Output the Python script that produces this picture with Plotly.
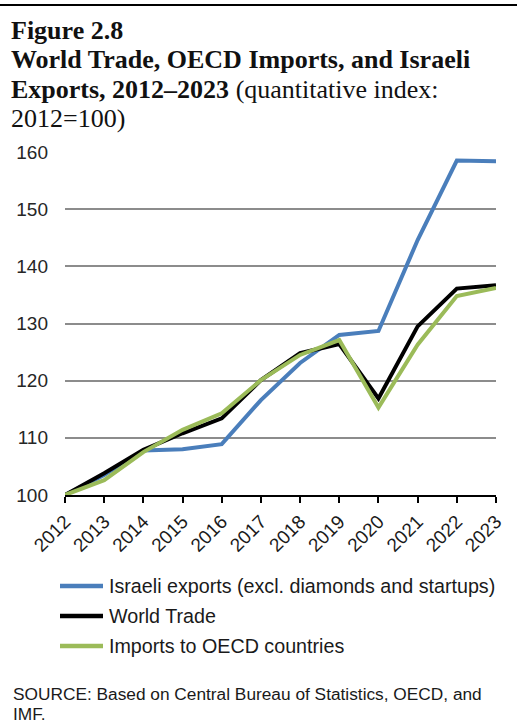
import plotly.graph_objects as go

years = list(range(2012, 2024))
israeli_exports = [100, 103.5, 107.8, 108.0, 108.9, 116.6, 123.1, 128.0, 128.7, 144.6, 158.5, 158.4]
world_trade = [100, 103.8, 107.9, 110.8, 113.4, 120.1, 124.8, 126.4, 116.9, 129.5, 136.1, 136.7]
oecd_imports = [100, 102.6, 107.5, 111.4, 114.3, 120.1, 124.5, 127.1, 115.3, 126.3, 134.8, 136.2]
series_names = ["Israeli exports (excl. diamonds and startups)", "World Trade", "Imports to OECD countries"]
series_colors = ["#4A7EBB", "#000000", "#9BBB59"]
y_ticks = [100, 110, 120, 130, 140, 150, 160]
title_lines = ["<b>Figure 2.8</b>",
               "<b>World Trade, OECD Imports, and Israeli</b>",
               "<b>Exports, 2012–2023</b> (quantitative index:",
               "2012=100)"]
source_lines = ["SOURCE: Based on Central Bureau of Statistics, OECD, and", "IMF."]

W, H = 517, 727
L, R, T, B = 65, 21, 152, 232
ph = H - T - B
pw = W - L - R

def py(pix):
    return (H - B - pix) / ph

def px(pix):
    return (pix - L) / pw

fig = go.Figure()
for name, vals, col in zip(series_names, [israeli_exports, world_trade, oecd_imports], series_colors):
    fig.add_trace(go.Scatter(x=years, y=vals, mode="lines", name=name,
                             line=dict(color=col, width=4), cliponaxis=False,
                             showlegend=False))

annotations = []
shapes = [dict(type="line", xref="paper", yref="paper", x0=px(0), x1=px(W),
               y0=py(5), y1=py(5), line=dict(color="black", width=2))]

# title lines
for i, t in enumerate(title_lines):
    annotations.append(dict(
        text=t, xref="paper", yref="paper", x=px(9), y=py(30.5 + i * 29.4),
        xanchor="left", yanchor="middle", showarrow=False, align="left",
        font=dict(family="Liberation Serif, Times New Roman", size=26, color="#111111"),
    ))

# legend (manual)
for i, (name, col) in enumerate(zip(series_names, series_colors)):
    yy = 586 + i * 30
    shapes.append(dict(type="line", xref="paper", yref="paper",
                       x0=px(60), x1=px(103), y0=py(yy), y1=py(yy),
                       line=dict(color=col, width=4.5)))
    annotations.append(dict(
        text=name, xref="paper", yref="paper", x=px(107), y=py(yy),
        xanchor="left", yanchor="middle", showarrow=False,
        font=dict(family="Liberation Sans, Arial", size=19.7, color="#1a1a1a"),
    ))

# source lines
for i, s in enumerate(source_lines):
    annotations.append(dict(
        text=s, xref="paper", yref="paper", x=px(11), y=py(694 + i * 19.5),
        xanchor="left", yanchor="middle", showarrow=False, align="left",
        font=dict(family="Liberation Sans, Arial", size=17.3, color="#1a1a1a"),
    ))

fig.update_layout(
    width=W, height=H,
    margin=dict(l=L, r=R, t=T, b=B),
    paper_bgcolor="white", plot_bgcolor="white",
    font=dict(family="Liberation Sans, Arial", size=18, color="#262626"),
    xaxis=dict(
        range=[2012, 2023], tickmode="array", tickvals=years, ticktext=[str(y) for y in years],
        tickangle=-45, showgrid=False, zeroline=False,
        showline=True, linecolor="black", linewidth=2,
        ticks="outside", ticklen=6, tickwidth=1.5, tickcolor="black",
        tickfont=dict(size=19, color="#1a1a1a"),
    ),
    yaxis=dict(
        range=[100, 160], tickmode="array", tickvals=y_ticks,
        showgrid=True, gridcolor="#8C8C8C", gridwidth=1.5, zeroline=False,
        showline=False, ticks="", ticklabelstandoff=16,
        tickfont=dict(size=19, color="#262626"),
    ),
    showlegend=False,
    shapes=shapes,
    annotations=annotations,
)

fig.write_html("out.html")
